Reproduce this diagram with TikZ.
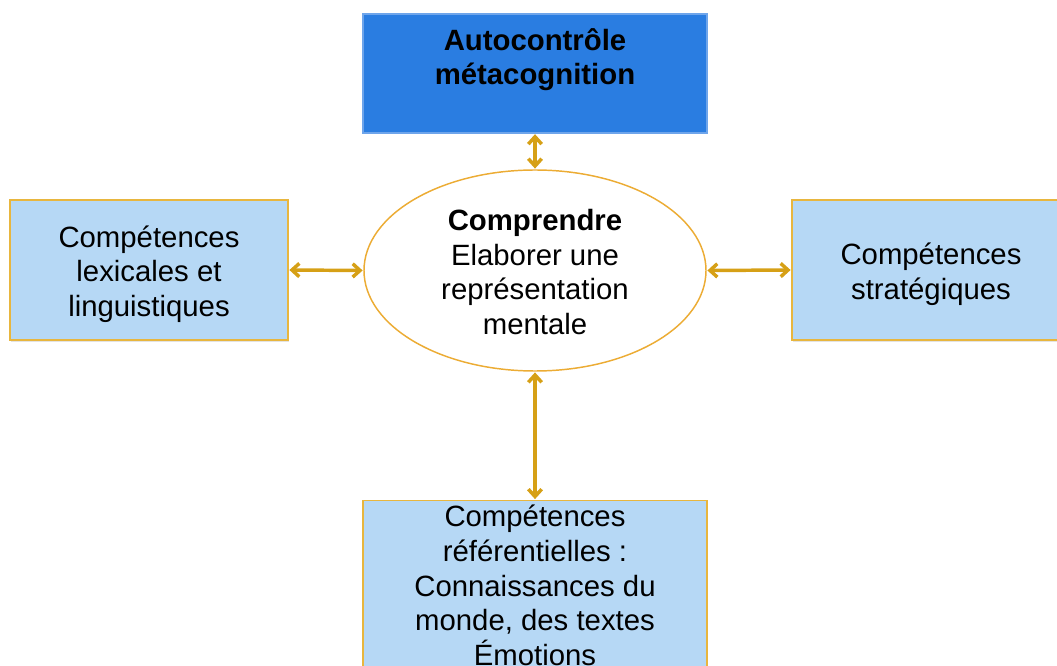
\documentclass[tikz,border=0pt]{standalone}
\usepackage{fontspec}
\setmainfont{Liberation Sans}
\usetikzlibrary{arrows.meta,shapes.geometric,shadows}
\definecolor{lightbox}{RGB}{182,216,245}
\definecolor{goldline}{RGB}{232,182,62}
\definecolor{darkbox}{RGB}{42,125,225}
\definecolor{darkedge}{RGB}{110,165,235}
\definecolor{arrowgold}{RGB}{214,160,22}
\definecolor{ellipseedge}{RGB}{236,172,52}
\begin{document}
\begin{tikzpicture}[x=0.75pt,y=-0.75pt,
  font=\fontsize{22}{26}\selectfont,
  softshadow/.style={drop shadow={opacity=0.22,shadow xshift=0.8pt,shadow yshift=-1.6pt}},
  box/.style={draw=goldline, line width=1.1pt, fill=lightbox, inner sep=0pt, align=center, softshadow},
  topbox/.style={draw=darkedge, line width=0.8pt, fill=darkbox, inner sep=0pt},
  centre/.style={ellipse, draw=ellipseedge, line width=1.1pt, fill=white, inner sep=0pt, align=center,
    minimum width=256.5pt, minimum height=150.75pt},
  label/.style={inner sep=0pt, align=center},
  conn/.style={draw=arrowgold, line width=2.6pt, {Straight Barb[length=5.5pt,width=10pt]}-{Straight Barb[length=5.5pt,width=10pt]}, shorten <=0.5pt, shorten >=0.5pt}
]
\useasboundingbox (0,0) rectangle (1057,666);
\clip (0,0) rectangle (1057,666);

% top box
\node[topbox, minimum width=258pt, minimum height=89.25pt] (auto) at (535,73.5) {};
\node[label, anchor=north, font=\fontsize{22}{25.5}\selectfont\bfseries] (autotxt) at (535,28) {Autocontrôle\\métacognition};

% central ellipse
\node[centre] (ell) at (535,270.5) {};
\node[label] (elltxt) at (535,272) {\textbf{Comprendre}\\Elaborer une\\représentation\\mentale};

% left box
\node[box, minimum width=208.5pt, minimum height=105pt] (lex) at (149,270) {};
\node[label] (lextxt) at (149,274) {Compétences\\lexicales et\\linguistiques};

% right box
\node[box, minimum width=208.5pt, minimum height=105pt] (strat) at (931,270) {};
\node[label] (strattxt) at (931,274) {Compétences\\stratégiques};

% bottom box
\node[box, minimum width=258pt, minimum height=135pt] (ref) at (535,590.5) {};
\node[label, anchor=north] (reftxt) at (535,505) {Compétences\\référentielles :\\Connaissances du\\monde, des textes\\Émotions};

% connectors
\draw[conn] (auto.south) -- (ell.north);
\draw[conn] (lex.east) -- (ell.west);
\draw[conn] (ell.east) -- (strat.west);
\draw[conn] (ell.south) -- (ref.north);
\end{tikzpicture}
\end{document}
